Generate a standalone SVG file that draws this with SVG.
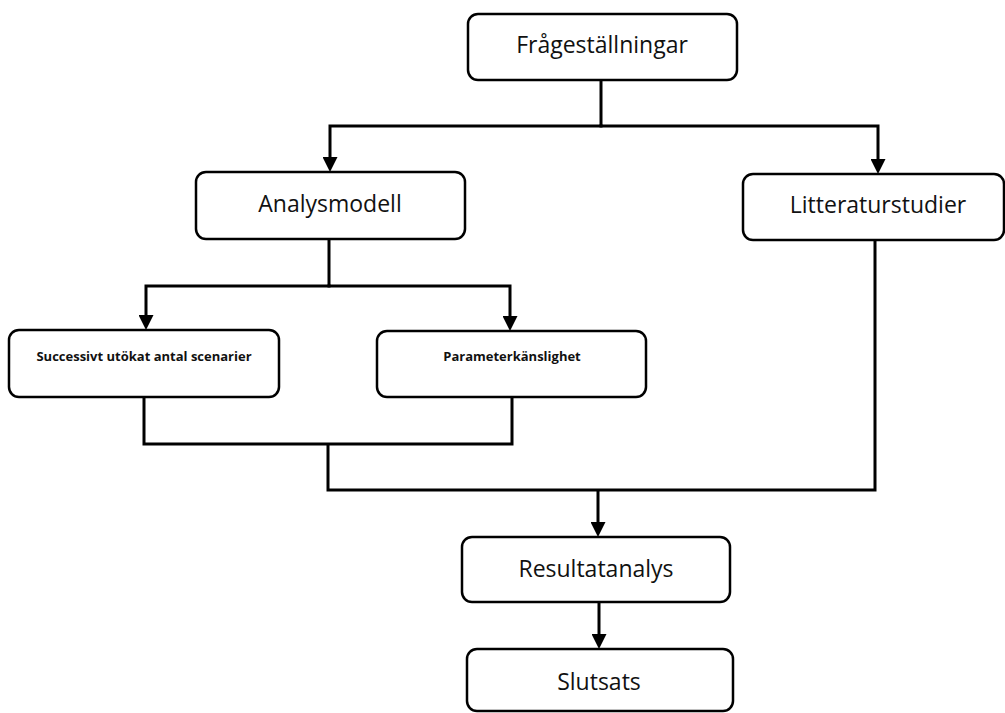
<svg xmlns="http://www.w3.org/2000/svg" width="1005" height="713" viewBox="0 0 1005 713">
<style>
.box{fill:#fff;stroke:#000;stroke-width:2.5}
.lbl{font-family:"Open Sans","Liberation Sans",sans-serif;font-size:23px;fill:#111;text-anchor:middle}
.sm{font-family:"Open Sans","Liberation Sans",sans-serif;font-size:13px;font-weight:bold;fill:#111;text-anchor:middle}
.ln{fill:none;stroke:#000;stroke-width:3;stroke-linejoin:miter;stroke-linecap:butt}
</style>
<defs>
<marker id="ah" viewBox="0 0 15 15" refX="5" refY="7.5" markerWidth="15" markerHeight="15" markerUnits="userSpaceOnUse" orient="auto">
<path d="M0,0 L15,7.5 L0,15 z" fill="#000"/>
</marker>
</defs>
<rect width="1005" height="713" fill="#fff"/>
<g id="connectors">
<path class="ln" d="M601,80 V126"/>
<path class="ln" d="M602.5,126 H330 V162" marker-end="url(#ah)"/>
<path class="ln" d="M599.5,126 H878 V164" marker-end="url(#ah)"/>
<path class="ln" d="M329,239 V286"/>
<path class="ln" d="M330.5,286 H146 V320" marker-end="url(#ah)"/>
<path class="ln" d="M327.5,286 H510 V321" marker-end="url(#ah)"/>
<path class="ln" d="M144,397 V444 H512 V397"/>
<path class="ln" d="M328,444 V490 H875 V240"/>
<path class="ln" d="M598,490 V527" marker-end="url(#ah)"/>
<path class="ln" d="M599,602 V639" marker-end="url(#ah)"/>
</g>
<g id="fragestallningar">
<rect class="box" x="468" y="14" width="269" height="66" rx="10"/>
<text class="lbl" x="602" y="53">Frågeställningar</text>
</g>
<g id="analysmodell">
<rect class="box" x="196" y="172" width="269" height="67" rx="10"/>
<text class="lbl" x="330" y="212">Analysmodell</text>
</g>
<g id="litteraturstudier">
<rect class="box" x="743" y="174" width="261" height="66" rx="10"/>
<text class="lbl" x="878" y="213">Litteraturstudier</text>
</g>
<g id="successivt">
<rect class="box" x="9" y="330" width="270" height="67" rx="10"/>
<text class="sm" x="144" y="361">Successivt utökat antal scenarier</text>
</g>
<g id="parameterkanslighet">
<rect class="box" x="377" y="331" width="269" height="66" rx="10"/>
<text class="sm" x="512" y="361">Parameterkänslighet</text>
</g>
<g id="resultatanalys">
<rect class="box" x="462" y="537" width="268" height="65" rx="10"/>
<text class="lbl" x="596" y="577">Resultatanalys</text>
</g>
<g id="slutsats">
<rect class="box" x="467" y="649" width="266" height="62" rx="10"/>
<text class="lbl" x="599" y="690">Slutsats</text>
</g>
</svg>
